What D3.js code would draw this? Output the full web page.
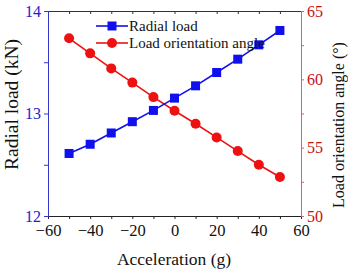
<!DOCTYPE html>
<html><head><meta charset="utf-8">
<script src="https://cdn.jsdelivr.net/npm/d3@7"></script>
<style>body{margin:0;background:#fff}svg{display:block}text{font-family:"Liberation Serif","Times New Roman",serif}</style>
</head><body><svg id="c" width="348" height="270"></svg>
<script>
const accel = [-50,-40,-30,-20,-10,0,10,20,30,40,50];
const radialLoad = [12.61,12.70,12.81,12.92,13.03,13.15,13.27,13.40,13.53,13.67,13.81];
const orientAngle = [63.0,61.9,60.8,59.76,58.7,57.7,56.75,55.75,54.75,53.75,52.85];
const xTicks = [-60,-40,-20,0,20,40,60];
const yLeftTicks = [12,13,14];
const yRightTicks = [50,55,60,65];

const svg = d3.select("#c");
const L=48,R=301,T=11,B=216;
const x = d3.scaleLinear().domain([-60,60]).range([L,R]);
const yl = d3.scaleLinear().domain([12,14]).range([B,T]);
const yr = d3.scaleLinear().domain([50,65]).range([B,T]);
const blue="#1010ee", red="#ee1111";

// top axis
svg.append("g").attr("transform",`translate(0,${T})`)
  .call(d3.axisTop(x).tickValues(d3.range(-60,61,10)).tickSize(-3).tickFormat(""))
  .call(g=>{g.selectAll("path,line").attr("stroke","#333");});
// bottom axis
const gb = svg.append("g").attr("transform",`translate(0,${B})`)
  .call(d3.axisBottom(x).tickValues(d3.range(-60,61,10)).tickSize(3).tickFormat(""));
gb.selectAll("path,line").attr("stroke","#222");
svg.append("g").attr("transform",`translate(0,${B})`)
  .call(d3.axisBottom(x).tickValues(xTicks).tickSize(0).tickPadding(8).tickFormat(d=>d<0?"\u2212"+(-d):d))
  .call(g=>{g.select("path").remove();g.selectAll("text").attr("font-size",16.5).attr("fill","#111");});

// left axis
const gl = svg.append("g").attr("transform",`translate(${L},0)`)
  .call(d3.axisLeft(yl).tickValues([12,12.5,13,13.5,14]).tickSize(4).tickPadding(3).tickFormat(d=>yLeftTicks.includes(d)?d:""));
gl.selectAll("path,line").attr("stroke","#3535d0");
gl.selectAll("text").attr("font-size",16).attr("fill","#2222cc");

// right axis
const gr = svg.append("g").attr("transform",`translate(${R},0)`)
  .call(d3.axisRight(yr).tickValues([50,52.5,55,57.5,60,62.5,65]).tickSize(3).tickPadding(3).tickFormat(d=>yRightTicks.includes(d)?d:""));
gr.selectAll("path,line").attr("stroke","#e06060");
gr.selectAll("text").attr("font-size",16).attr("fill","#c81010");

// lines
const lineL = d3.line().x((d,i)=>x(accel[i])).y(d=>yl(d));
const lineR = d3.line().x((d,i)=>x(accel[i])).y(d=>yr(d));
svg.append("path").attr("d",lineR(orientAngle)).attr("fill","none").attr("stroke",red).attr("stroke-width",1.6);
svg.append("g").selectAll("circle").data(orientAngle).join("circle")
  .attr("cx",(d,i)=>x(accel[i])).attr("cy",d=>yr(d)).attr("r",5).attr("fill",red);
svg.append("path").attr("d",lineL(radialLoad)).attr("fill","none").attr("stroke",blue).attr("stroke-width",1.6);
svg.append("g").selectAll("rect").data(radialLoad).join("rect")
  .attr("x",(d,i)=>x(accel[i])-4.5).attr("y",d=>yl(d)-4.5).attr("width",9).attr("height",9).attr("fill",blue);

// legend
const leg = [{n:"Radial load",c:blue,s:"sq",y:26},{n:"Load orientation angle",c:red,s:"ci",y:43}];
leg.forEach(e=>{
  svg.append("line").attr("x1",96).attr("x2",128).attr("y1",e.y).attr("y2",e.y).attr("stroke",e.c).attr("stroke-width",1.6);
  if(e.s==="sq") svg.append("rect").attr("x",112-4.5).attr("y",e.y-4.5).attr("width",9).attr("height",9).attr("fill",e.c);
  else svg.append("circle").attr("cx",112).attr("cy",e.y).attr("r",5).attr("fill",e.c);
  svg.append("text").attr("x",129).attr("y",e.y+5).attr("font-size",15).attr("fill","#111").text(e.n);
});

// titles
svg.append("text").attr("x",174).attr("y",264.5).attr("text-anchor","middle").attr("font-size",17.5).attr("fill","#111").text("Acceleration (g)");
svg.append("text").attr("transform",`translate(18,104.5) rotate(-90)`).attr("text-anchor","middle").attr("font-size",19.5).attr("fill","#111").text("Radial load (kN)");
svg.append("text").attr("transform",`translate(344,125) rotate(-90)`).attr("text-anchor","middle").attr("font-size",16).attr("fill","#111").text("Load orientation angle (\u00b0)");
</script></body></html>
